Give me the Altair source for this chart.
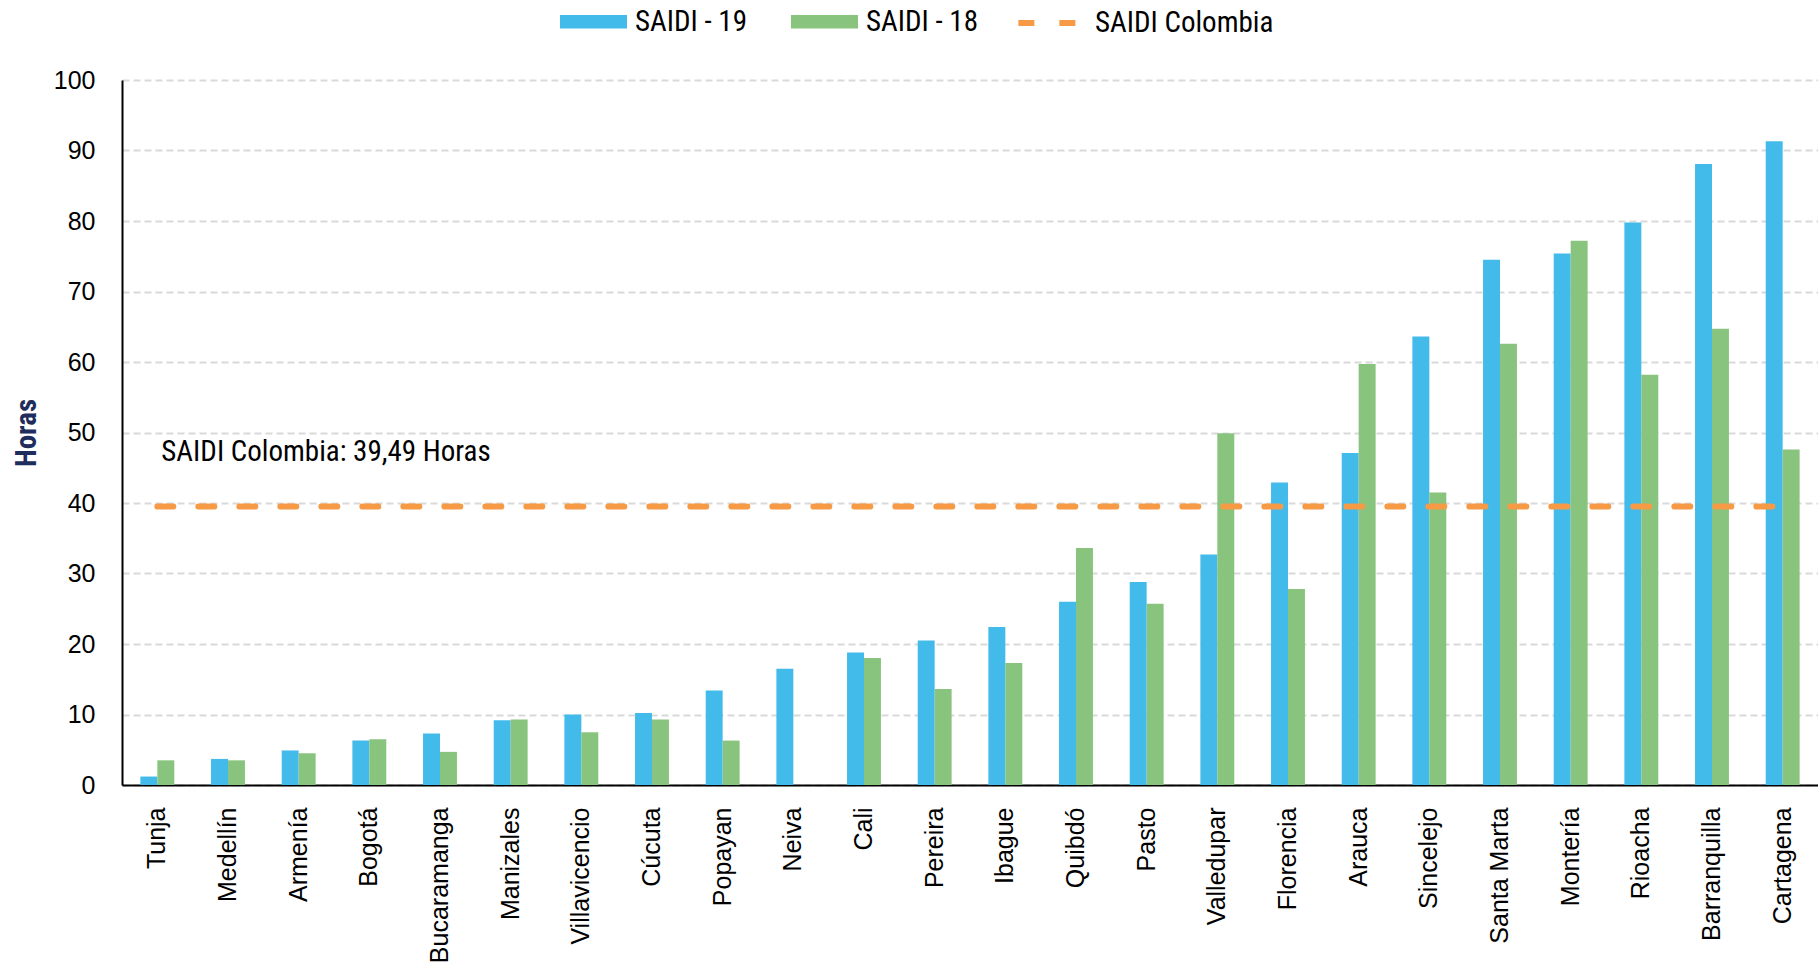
import altair as alt
import pandas as pd

ciudades = ["Tunja", "Medellín", "Armenía", "Bogotá", "Bucaramanga", "Manizales",
            "Villavicencio", "Cúcuta", "Popayan", "Neiva", "Cali", "Pereira",
            "Ibague", "Quibdó", "Pasto", "Valledupar", "Florencia", "Arauca",
            "Sincelejo", "Santa Marta", "Montería", "Rioacha", "Barranquilla", "Cartagena"]
saidi_19 = [1.2, 3.7, 4.9, 6.3, 7.3, 9.2, 10.0, 10.2, 13.4, 16.5, 18.8, 20.5,
            22.4, 26.0, 28.8, 32.7, 42.9, 47.1, 63.6, 74.5, 75.4, 79.8, 88.1, 91.3]
saidi_18 = [3.5, 3.5, 4.5, 6.5, 4.7, 9.3, 7.5, 9.3, 6.3, None, 18.0, 13.6,
            17.3, 33.6, 25.7, 49.9, 27.8, 59.7, 41.5, 62.6, 77.2, 58.2, 64.7, 47.6]
series = ["SAIDI - 19", "SAIDI - 18"]
saidi_colombia = 39.49
linea_nombre = "SAIDI Colombia"
anotacion = "SAIDI Colombia: 39,49 Horas"

rows = []
for c, v19, v18 in zip(ciudades, saidi_19, saidi_18):
    rows.append({"ciudad": c, "serie": series[0], "valor": v19})
    rows.append({"ciudad": c, "serie": series[1], "valor": v18})
df = pd.DataFrame(rows)
df_line = pd.DataFrame({"ciudad": ciudades,
                        "valor": [saidi_colombia] * len(ciudades),
                        "linea": [linea_nombre] * len(ciudades)})
df_text = pd.DataFrame({"ciudad": [ciudades[0]], "valor": [47.3], "txt": [anotacion]})

COND = "Roboto Condensed, Liberation Sans Narrow, Roboto"
BLUE = "#43BBEA"
GREEN = "#89C47F"
ORANGE = "#F79A46"

x_enc = alt.X("ciudad:N", sort=ciudades,
              scale=alt.Scale(paddingInner=0.52, paddingOuter=0.26),
              axis=alt.Axis(title=None, labelAngle=270, labelAlign="right",
                            labelBaseline="middle", labelFont="Liberation Sans",
                            labelFontSize=25, labelColor="black", labelPadding=22,
                            ticks=False, domainColor="black", domainWidth=2,
                            grid=False))
y_enc = alt.Y("valor:Q", scale=alt.Scale(domain=[0, 100], nice=False),
              axis=alt.Axis(values=list(range(0, 101, 10)), title="Horas",
                            titleFont=COND, titleFontSize=29, titleFontWeight="bold",
                            titleColor="#1F2D5C", titlePadding=12,
                            labelFont="Liberation Sans", labelFontSize=25,
                            labelColor="black", labelPadding=27, ticks=False,
                            domainColor="black", domainWidth=2,
                            gridColor="#D9D9D9", gridDash=[7, 4], gridWidth=2))

bars = alt.Chart(df).mark_bar().encode(
    x=x_enc,
    xOffset=alt.XOffset("serie:N", sort=series, scale=alt.Scale(paddingInner=0)),
    y=y_enc,
    color=alt.Color("serie:N", sort=series,
                    scale=alt.Scale(domain=series, range=[BLUE, GREEN]),
                    legend=alt.Legend(title=None, orient="none", direction="horizontal",
                                      legendX=438, legendY=-92,
                                      symbolType="M-1,-0.2H1V0.2H-1Z", symbolSize=4489,
                                      symbolStrokeWidth=0, labelFont=COND,
                                      labelFontSize=29, labelColor="black",
                                      labelOffset=8, columnPadding=44, labelLimit=0)),
)

line = alt.Chart(df_line).mark_line(color=ORANGE, strokeWidth=6, strokeCap="round").encode(
    x=alt.X("ciudad:N", sort=ciudades),
    y=alt.Y("valor:Q"),
    strokeDash=alt.StrokeDash("linea:N", scale=alt.Scale(domain=[linea_nombre], range=[[16, 25]]),
                              legend=alt.Legend(title=None, orient="none",
                                                legendX=893, legendY=-92,
                                                symbolType="stroke", symbolSize=4000,
                                                symbolStrokeColor=ORANGE,
                                                symbolStrokeWidth=6,
                                                labelFont=COND, labelFontSize=29,
                                                labelColor="black", labelOffset=10,
                                                labelLimit=0)),
)

text = alt.Chart(df_text).mark_text(align="left", baseline="middle", dx=4,
                                     font=COND, fontSize=29, color="black").encode(
    x=alt.X("ciudad:N", sort=ciudades),
    y=alt.Y("valor:Q"),
    text="txt:N",
)

chart = alt.layer(bars, line, text).properties(
    width=1696, height=705,
    autosize=alt.AutoSizeParams(type="none"),
    padding={"left": 122, "top": 80, "right": 0, "bottom": 181},
    background="white",
).configure_view(stroke=None)

chart.save("out.html", embed_options={"renderer": "svg", "actions": False})
